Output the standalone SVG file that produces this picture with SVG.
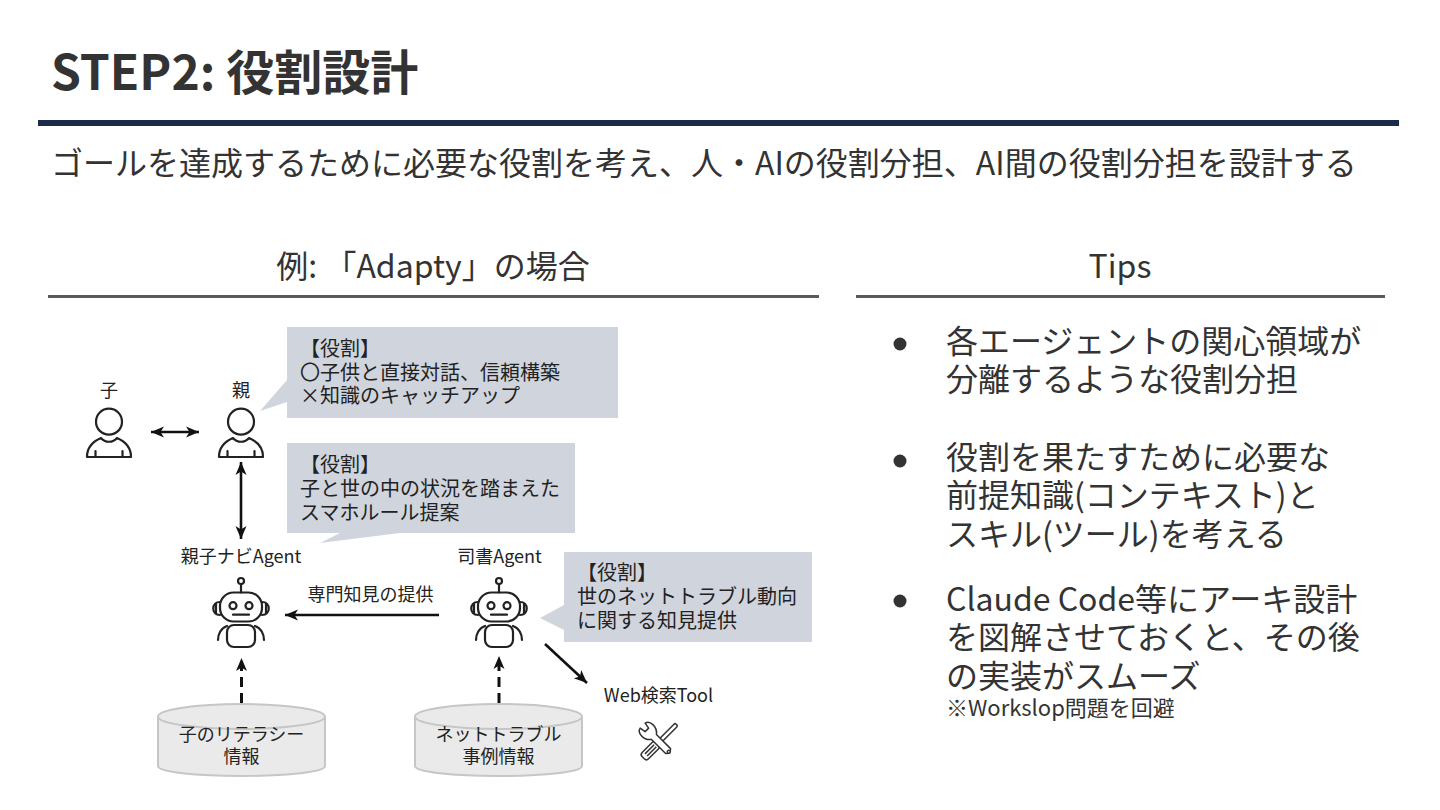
<svg xmlns="http://www.w3.org/2000/svg" width="1440" height="810" viewBox="0 0 1440 810">
<style>
text{font-family:"Noto Sans CJK JP","Noto Sans",sans-serif;fill:#333}
.title{font-size:48px;font-weight:700}
.sub{font-size:32px}
.head{font-size:32px;text-anchor:middle}
.tip{font-size:32px}
.t{font-size:20px;fill:#222}
.c{font-size:18px;text-anchor:middle;fill:#222}
.note{font-size:22px}
.callout{fill:#d0d5dd}
.ico{fill:none;stroke:#222;stroke-width:2.2;stroke-linecap:round;stroke-linejoin:round}
.tool{fill:#fff;stroke:#333;stroke-width:1.5;stroke-linejoin:round}
.ln{fill:none;stroke:#111;stroke-width:2.6}
.dash{stroke-width:3;stroke-dasharray:10 6}
.cyl{fill:#eaeaea;stroke:#c6c6c6;stroke-width:2}
.rule{fill:#595959}
</style>
<defs>
<marker id="ah" viewBox="0 0 14 12" refX="13" refY="6" markerWidth="14" markerHeight="12" markerUnits="userSpaceOnUse" orient="auto-start-reverse"><path d="M0 .5 L13 6 L0 11.500 L3.500 6Z" fill="#111"/></marker>
<g id="person"><circle cx="0" cy="-14.300" r="13" class="ico"/><path class="ico" d="M-22 21 C-22 11-15 5-8 2 C-4 7 4 7 8 2 C15 5 22 11 22 21Z M-13.500 21V15 M13.500 21V15"/></g>
<g id="robot"><path class="ico" d="M0 -18V-9.500"/><circle cx="0" cy="-21" r="3" class="ico"/><rect x="-21" y="-9.500" width="42" height="29" rx="13.500" class="ico"/><circle cx="-8" cy="3.700" r="3.500" class="ico"/><circle cx="8" cy="3.700" r="3.500" class="ico"/><path class="ico" d="M-8 12.700H8 M-21 0C-30 0-30 13-21 13 M21 0C30 0 30 13 21 13 M-25 1V12 M25 1V12"/><rect x="-14" y="23" width="28" height="22" rx="7" class="ico"/><path class="ico" d="M-14 24C-20 26-23 32-23 38 M14 24C20 26 23 32 23 38"/></g>
</defs>
<g id="header">
<text class="title" x="51" y="90">STEP2: 役割設計</text>
<rect x="38" y="120" width="1361" height="6" fill="#1c2b4a"/>
<text class="sub" x="51" y="175">ゴールを達成するために必要な役割を考え、人・AIの役割分担、AI間の役割分担を設計する</text>
</g>
<g id="left-head"><text class="head" x="433" y="278">例: 「Adapty」の場合</text><rect class="rule" x="48" y="295" width="771" height="3"/></g>
<g id="right-head"><text class="head" x="1120" y="278">Tips</text><rect class="rule" x="856" y="295" width="529" height="3"/></g>

<g id="connectors">
<path class="ln" d="M151 432H199" marker-start="url(#ah)" marker-end="url(#ah)"/>
<path class="ln" d="M241 462V539" marker-start="url(#ah)" marker-end="url(#ah)"/>
<path class="ln" d="M439 615H285" marker-end="url(#ah)"/>
<path class="ln dash" d="M241.500 703V658" marker-end="url(#ah)"/>
<path class="ln dash" d="M499 703V656" marker-end="url(#ah)"/>
<path class="ln" d="M545 644L587 683" marker-end="url(#ah)"/>
</g>

<g id="child"><text class="c" x="109" y="397">子</text><use href="#person" x="109" y="436"/></g>
<g id="parent"><text class="c" x="241" y="397">親</text><use href="#person" x="241" y="436"/></g>
<g id="callout-parent"><path class="callout" d="M287 327H618V418H287V402L260 411L287 380Z"/>
<text class="t" x="300" y="356">【役割】</text><text class="t" x="300" y="380">〇子供と直接対話、信頼構築</text><text class="t" x="300" y="403">×知識のキャッチアップ</text></g>
<g id="callout-navi"><path class="callout" d="M287 443H575V533H400L320 543L340 533H287Z"/>
<text class="t" x="300" y="472">【役割】</text><text class="t" x="300" y="496">子と世の中の状況を踏まえた</text><text class="t" x="300" y="520">スマホルール提案</text></g>
<g id="callout-lib"><path class="callout" d="M564 552H812V642H564V630L540 618L564 605Z"/>
<text class="t" x="577" y="580">【役割】</text><text class="t" x="577" y="604">世のネットトラブル動向</text><text class="t" x="577" y="628">に関する知見提供</text></g>

<g id="navi-agent"><text class="c" x="241" y="563">親子ナビAgent</text><use href="#robot" x="241" y="602"/></g>
<g id="lib-agent"><text class="c" x="499.500" y="563">司書Agent</text><use href="#robot" x="499" y="602"/></g>
<text class="c" x="370.500" y="601">専門知見の提供</text>

<g id="db-child"><path class="cyl" d="M158 717V766C158 772 196 776 241.500 776S325 772 325 766V717"/><ellipse class="cyl" cx="241.500" cy="716.500" rx="83.500" ry="12.500"/>
<text class="c" x="241.500" y="741">子のリテラシー</text><text class="c" x="241.500" y="763">情報</text></g>
<g id="db-net"><path class="cyl" d="M415 717V766C415 772 453 776 498.500 776S582 772 582 766V717"/><ellipse class="cyl" cx="498.500" cy="716.500" rx="83.500" ry="12.500"/>
<text class="c" x="498.500" y="741">ネットトラブル</text><text class="c" x="498.500" y="763">事例情報</text></g>

<g id="web-tool"><text class="c" x="658.500" y="702">Web検索Tool</text>
<g transform="translate(651,750) rotate(-45)"><rect class="tool" x="-11" y="-4.500" width="20" height="9" rx="3"/><path class="tool" d="M-7 -1.500H6 M-7 1.500H6"/><rect class="tool" x="9" y="-2" width="27" height="4" rx="1.500"/></g>
<g transform="translate(649,732) rotate(45)"><path class="tool" d="M-9 -3.500L-3 -2.500V2.500L-9 3.500C-8 9 2 10 7 3.500L27 3.500A4.500 4.500 0 0 0 27 -3.500L7 -3.500C2 -10 -8 -9 -9 -3.500Z"/><circle class="tool" cx="28" cy="0" r="1.500"/></g></g>

<g id="tips">
<circle cx="900" cy="344" r="6.500" fill="#333"/><circle cx="900" cy="461" r="6.500" fill="#333"/><circle cx="900" cy="601" r="6.500" fill="#333"/>
<text class="tip" x="946" y="353">各エージェントの関心領域が</text>
<text class="tip" x="946" y="391">分離するような役割分担</text>
<text class="tip" x="946" y="469">役割を果たすために必要な</text>
<text class="tip" x="946" y="507">前提知識(コンテキスト)と</text>
<text class="tip" x="946" y="546">スキル(ツール)を考える</text>
<text class="tip" x="946" y="611">Claude Code等にアーキ設計</text>
<text class="tip" x="946" y="649">を図解させておくと、その後</text>
<text class="tip" x="946" y="688">の実装がスムーズ</text>
<text class="note" x="946" y="716">※Workslop問題を回避</text>
</g>
</svg>
